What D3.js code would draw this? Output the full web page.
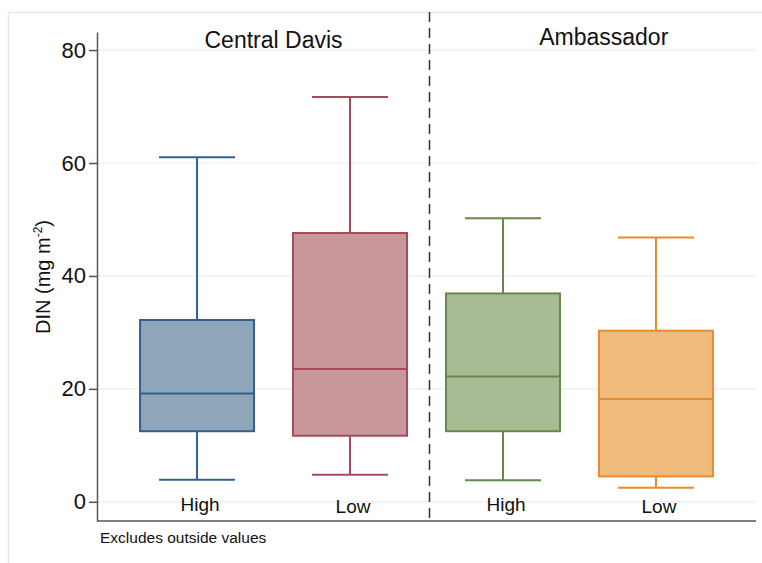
<!DOCTYPE html>
<html>
<head>
<meta charset="utf-8">
<script src="https://cdn.jsdelivr.net/npm/d3@7"></script>
<style>
  html, body { margin: 0; padding: 0; background: #fff; }
  svg { display: block; font-family: "Liberation Sans", Arial, Helvetica, sans-serif; }
</style>
</head>
<body>
<svg id="chart" width="762" height="563"></svg>
<script>
// Box-plot summaries of DIN (mg m⁻²) per site and treatment
const groups     = ["CD-High", "CD-Low", "AM-High", "AM-Low"];
const sites      = ["Central Davis", "Central Davis", "Ambassador", "Ambassador"];
const levels     = ["High", "Low", "High", "Low"];
const whiskerLo  = [3.9, 4.8, 3.8, 2.5];
const q1         = [12.5, 11.7, 12.5, 4.5];
const median     = [19.2, 23.5, 22.2, 18.2];
const q3         = [32.2, 47.6, 36.9, 30.3];
const whiskerHi  = [61.0, 71.7, 50.2, 46.8];
const yTicks     = [0, 20, 40, 60, 80];
const siteTitles = ["Central Davis", "Ambassador"];

const fills   = ["#8ea5ba", "#c8989b", "#a9bb94", "#efbb7d"];
const strokes = ["#34608b", "#a84a5b", "#66894a", "#eb8a2c"];

const svg = d3.select("#chart");
const W = 762, H = 563;
const plot = { left: 97, right: 756, top: 32, bottom: 521 };

// light outer frame
svg.append("rect")
  .attr("x", 8.5).attr("y", 12.5)
  .attr("width", W).attr("height", H)
  .attr("fill", "none").attr("stroke", "#e4e8ed").attr("stroke-width", 1.5);

const y = d3.scaleLinear().domain([-3.4, 83.2]).range([plot.bottom, plot.top]);
const x = d3.scalePoint().domain(groups).range([plot.left, plot.right]).padding(0.654);

const boxW = 114, capW = 76;

// gridlines
svg.append("g").selectAll("line").data(yTicks).join("line")
  .attr("x1", plot.left).attr("x2", plot.right)
  .attr("y1", d => y(d)).attr("y2", d => y(d))
  .attr("stroke", "#e9eef2").attr("stroke-width", 1.2);

// y axis
const yAxis = svg.append("g")
  .attr("transform", `translate(${plot.left},0)`)
  .call(d3.axisLeft(y).tickValues(yTicks).tickSize(8).tickPadding(3).tickSizeOuter(0));
yAxis.select(".domain").attr("stroke", "#555").attr("stroke-width", 1.5);
yAxis.selectAll(".tick line").attr("stroke", "#555").attr("stroke-width", 1.5);
yAxis.selectAll(".tick text")
  .attr("font-size", 22).attr("fill", "#111")
  .attr("font-family", "Liberation Sans, Arial, sans-serif");

// x axis baseline
svg.append("line")
  .attr("x1", plot.left).attr("x2", plot.right)
  .attr("y1", plot.bottom).attr("y2", plot.bottom)
  .attr("stroke", "#555").attr("stroke-width", 1.5);

// y axis title
svg.append("text")
  .attr("transform", `translate(50,277) rotate(-90)`)
  .attr("text-anchor", "middle")
  .attr("font-size", 20).attr("fill", "#111")
  .text("DIN (mg m")
  .append("tspan").attr("font-size", 12).attr("dy", -8).text("-2")
  .select(function() { return this.parentNode; })
  .append("tspan").attr("dy", 8).text(")");

// boxes
const data = groups.map((g, i) => ({
  g, level: levels[i], lo: whiskerLo[i], q1: q1[i], med: median[i], q3: q3[i], hi: whiskerHi[i],
  fill: fills[i], stroke: strokes[i]
}));

const box = svg.append("g").selectAll("g").data(data).join("g");

box.append("line")
  .attr("x1", d => x(d.g)).attr("x2", d => x(d.g))
  .attr("y1", d => y(d.hi)).attr("y2", d => y(d.q3))
  .attr("stroke", d => d.stroke).attr("stroke-width", 2);
box.append("line")
  .attr("x1", d => x(d.g)).attr("x2", d => x(d.g))
  .attr("y1", d => y(d.q1)).attr("y2", d => y(d.lo))
  .attr("stroke", d => d.stroke).attr("stroke-width", 2);
box.append("line")
  .attr("x1", d => x(d.g) - capW / 2).attr("x2", d => x(d.g) + capW / 2)
  .attr("y1", d => y(d.hi)).attr("y2", d => y(d.hi))
  .attr("stroke", d => d.stroke).attr("stroke-width", 2);
box.append("line")
  .attr("x1", d => x(d.g) - capW / 2).attr("x2", d => x(d.g) + capW / 2)
  .attr("y1", d => y(d.lo)).attr("y2", d => y(d.lo))
  .attr("stroke", d => d.stroke).attr("stroke-width", 2);
box.append("rect")
  .attr("x", d => x(d.g) - boxW / 2).attr("width", boxW)
  .attr("y", d => y(d.q3)).attr("height", d => y(d.q1) - y(d.q3))
  .attr("fill", d => d.fill).attr("stroke", d => d.stroke).attr("stroke-width", 2);
box.append("line")
  .attr("x1", d => x(d.g) - boxW / 2).attr("x2", d => x(d.g) + boxW / 2)
  .attr("y1", d => y(d.med)).attr("y2", d => y(d.med))
  .attr("stroke", d => d.stroke).attr("stroke-width", 2);

// category labels
box.append("text")
  .attr("x", d => x(d.g) + 3).attr("y", (d, i) => (i === 1 || i === 3) ? 513 : 511)
  .attr("text-anchor", "middle").attr("font-size", 19).attr("fill", "#111")
  .text(d => d.level);

// site divider
const divX = (x(groups[1]) + x(groups[2])) / 2 + 3;
svg.append("line")
  .attr("x1", divX).attr("x2", divX)
  .attr("y1", 12).attr("y2", plot.bottom + 3)
  .attr("stroke", "#333").attr("stroke-width", 1.5)
  .attr("stroke-dasharray", "10,6");

// site titles
svg.append("text")
  .attr("x", (x(groups[0]) + x(groups[1])) / 2).attr("y", 48)
  .attr("text-anchor", "middle").attr("font-size", 23).attr("fill", "#111")
  .text(siteTitles[0]);
svg.append("text")
  .attr("x", (divX + plot.right) / 2 + 11).attr("y", 45)
  .attr("text-anchor", "middle").attr("font-size", 23).attr("fill", "#111")
  .text(siteTitles[1]);

// note
svg.append("text")
  .attr("x", 100).attr("y", 543)
  .attr("font-size", 15.5).attr("fill", "#111")
  .text("Excludes outside values");
</script>
</body>
</html>
